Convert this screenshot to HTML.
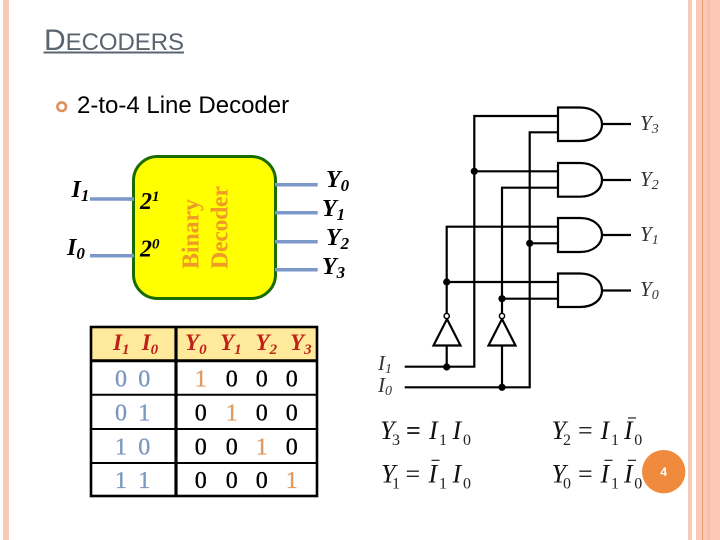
<!DOCTYPE html>
<html><head><meta charset="utf-8"><style>
html,body{margin:0;padding:0;background:#fff;width:720px;height:540px;overflow:hidden}
svg{display:block}
text{font-family:"Liberation Serif",serif}
.s{font-family:"Liberation Sans",sans-serif}
.w{stroke:#000;stroke-width:2.2;fill:none}
.g{stroke:#000;stroke-width:2.2;fill:#fff}
.bl{stroke:#7b98c8;stroke-width:3.5}
.lab{font-style:italic;font-size:21px;fill:#333}
.big{font-weight:bold;font-style:italic;font-size:24px;fill:#000}
.hd{font-weight:bold;font-style:italic;font-size:23px;fill:#c0201a}
.d{font-size:24px;text-anchor:middle;fill:#000;stroke:#000;stroke-width:.35}
.b{fill:#7b98c0;stroke:#7b98c0}.o{fill:#e09a60;stroke:#e09a60}
.eq{font-style:italic;font-size:26px;fill:#111}
.sb{font-size:16px;fill:#222}
.eqs{font-size:26px;fill:#222}
</style></head><body>
<svg width="720" height="540" viewBox="0 0 720 540" xmlns="http://www.w3.org/2000/svg">
<rect x="3" y="0" width="6" height="540" fill="#f8c8b8"/>
<rect x="688" y="0" width="4" height="540" fill="#f8c8b8"/>
<rect x="696" y="0" width="24" height="540" fill="#fdc8b8"/>
<rect x="702" y="0" width="1" height="540" fill="#e8a070"/>
<rect x="707" y="0" width="3" height="540" fill="#f8bfae"/>

<text class="s" x="44" y="50" fill="#5a6470" font-size="30" textLength="140" lengthAdjust="spacing">D<tspan font-size="24">ECODERS</tspan></text>
<rect x="43.5" y="51.5" width="140.5" height="2" fill="#5a6470"/>

<circle cx="61.7" cy="106.7" r="4.3" fill="none" stroke="#e0905a" stroke-width="2.6"/>
<text class="s" x="77" y="113" font-size="24" fill="#000">2-to-4 Line Decoder</text>

<!-- Decoder block -->
<line class="bl" x1="90" y1="199" x2="134" y2="199"/>
<line class="bl" x1="90" y1="255.7" x2="134" y2="255.7"/>
<line class="bl" x1="275" y1="184.7" x2="317.7" y2="184.7"/>
<line class="bl" x1="275" y1="212.7" x2="317.7" y2="212.7"/>
<line class="bl" x1="275" y1="241.7" x2="317.7" y2="241.7"/>
<line class="bl" x1="275" y1="269.7" x2="317.7" y2="269.7"/>
<rect x="133.5" y="156.5" width="142" height="142" rx="24" ry="24" fill="#ffff00" stroke="#1a6b00" stroke-width="3"/>
<line class="bl" x1="127" y1="199" x2="134" y2="199"/>
<line class="bl" x1="127" y1="255.7" x2="134" y2="255.7"/>
<line class="bl" x1="275" y1="184.7" x2="278" y2="184.7"/>
<line class="bl" x1="275" y1="212.7" x2="278" y2="212.7"/>
<line class="bl" x1="275" y1="241.7" x2="278" y2="241.7"/>
<line class="bl" x1="275" y1="269.7" x2="278" y2="269.7"/>
<text class="big" x="71.5" y="197" font-size="26">I<tspan font-size="17" dy="4">1</tspan></text>
<text class="big" x="67" y="255" font-size="26">I<tspan font-size="17" dy="4">0</tspan></text>
<text font-weight="bold" font-style="italic" font-size="24" x="140" y="209">2<tspan font-size="15" dy="-8">1</tspan></text>
<text font-weight="bold" font-style="italic" font-size="24" x="140" y="256.7">2<tspan font-size="15" dy="-8">0</tspan></text>
<text transform="translate(198.5 269) rotate(-90)" font-size="24" font-weight="bold" fill="#f09a28" textLength="70">Binary</text>
<text transform="translate(227.5 269) rotate(-90)" font-size="24" font-weight="bold" fill="#f09a28" textLength="83">Decoder</text>
<text class="big" x="326" y="187">Y<tspan font-size="17" dy="4">0</tspan></text>
<text class="big" x="322" y="216">Y<tspan font-size="17" dy="4">1</tspan></text>
<text class="big" x="326" y="245">Y<tspan font-size="17" dy="4">2</tspan></text>
<text class="big" x="322" y="274">Y<tspan font-size="17" dy="4">3</tspan></text>

<!-- Truth table -->
<rect x="91" y="327" width="226" height="33" fill="#ffe99a"/>
<g stroke="#000" fill="none">
<rect x="91" y="327" width="226" height="169" stroke-width="2.6"/>
<line x1="91" y1="360.7" x2="317" y2="360.7" stroke-width="3"/>
<line x1="91" y1="394.7" x2="317" y2="394.7" stroke-width="2"/>
<line x1="91" y1="429" x2="317" y2="429" stroke-width="2"/>
<line x1="91" y1="463" x2="317" y2="463" stroke-width="2"/>
<line x1="176" y1="327" x2="176" y2="496" stroke-width="3.2"/>
</g>
<text class="hd" x="113" y="350">I<tspan font-size="15" dy="4">1</tspan></text>
<text class="hd" x="141.7" y="350">I<tspan font-size="15" dy="4">0</tspan></text>
<text class="hd" x="185" y="350">Y<tspan font-size="15" dy="4">0</tspan></text>
<text class="hd" x="220" y="350">Y<tspan font-size="15" dy="4">1</tspan></text>
<text class="hd" x="255.5" y="350">Y<tspan font-size="15" dy="4">2</tspan></text>
<text class="hd" x="290" y="350">Y<tspan font-size="15" dy="4">3</tspan></text>

<g>
<text class="d b" x="121" y="386.7">0</text><text class="d b" x="144.3" y="386.7">0</text>
<text class="d o" x="200.7" y="386.7">1</text><text class="d" x="231.7" y="386.7">0</text><text class="d" x="261.7" y="386.7">0</text><text class="d" x="291.7" y="386.7">0</text>
<text class="d b" x="121" y="420.7">0</text><text class="d b" x="144.3" y="420.7">1</text>
<text class="d" x="200.7" y="420.7">0</text><text class="d o" x="231.7" y="420.7">1</text><text class="d" x="261.7" y="420.7">0</text><text class="d" x="291.7" y="420.7">0</text>
<text class="d b" x="121" y="454.3">1</text><text class="d b" x="144.3" y="454.3">0</text>
<text class="d" x="200.7" y="454.3">0</text><text class="d" x="231.7" y="454.3">0</text><text class="d o" x="261.7" y="454.3">1</text><text class="d" x="291.7" y="454.3">0</text>
<text class="d b" x="121" y="488">1</text><text class="d b" x="144.3" y="488">1</text>
<text class="d" x="200.7" y="488">0</text><text class="d" x="231.7" y="488">0</text><text class="d" x="261.7" y="488">0</text><text class="d o" x="291.7" y="488">1</text>
</g>

<!-- Circuit -->
<g class="w">
<path d="M404.7 366.7 H474.3 V116 H558"/>
<path d="M404.7 387.3 H529.7 V132.3 H558"/>
<path d="M474.3 171.3 H558"/>
<path d="M502 345 V187.7 H558"/>
<path d="M446.7 345 V226.7 H558"/>
<path d="M529.7 243.3 H558"/>
<path d="M446.7 282 H558"/>
<path d="M502 298.7 H558"/>
<path d="M446.7 345 V367"/>
<path d="M502 345 V387"/>
<path d="M602 124 H631 M602 180 H631 M602 235 H631 M602 290.5 H631"/>
</g>
<g class="g">
<path d="M558 107.5 H580 C593 107.5 602 115 602 124.5 C602 134 593 141 580 141 H558 Z"/>
<path d="M558 163 H580 C593 163 602 170.5 602 180 C602 189.5 593 196.7 580 196.7 H558 Z"/>
<path d="M558 218 H580 C593 218 602 225.5 602 235 C602 244.5 593 252 580 252 H558 Z"/>
<path d="M558 273.5 H580 C593 273.5 602 281 602 290.5 C602 300 593 307 580 307 H558 Z"/>
<path d="M433.5 345.5 H460.5 L447 319 Z"/>
<path d="M488.5 345.5 H515.5 L502 319 Z"/>
<circle cx="446.7" cy="316" r="2.6" stroke-width="1.5"/>
<circle cx="502" cy="316" r="2.6" stroke-width="1.5"/>
</g>
<g fill="#000">
<circle cx="474.3" cy="171.3" r="3.6"/><circle cx="529.7" cy="243.3" r="3.6"/>
<circle cx="446.7" cy="282" r="3.6"/><circle cx="502" cy="298.7" r="3.6"/>
<circle cx="446.7" cy="367" r="3.6"/><circle cx="502" cy="387.3" r="3.6"/>
</g>
<text class="lab" x="640" y="130">Y<tspan font-size="14" dy="3">3</tspan></text>
<text class="lab" x="640" y="186">Y<tspan font-size="14" dy="3">2</tspan></text>
<text class="lab" x="640" y="241">Y<tspan font-size="14" dy="3">1</tspan></text>
<text class="lab" x="640" y="296">Y<tspan font-size="14" dy="3">0</tspan></text>
<text class="lab" x="378" y="370">I<tspan font-size="14" dy="3">1</tspan></text>
<text class="lab" x="378" y="392">I<tspan font-size="14" dy="3">0</tspan></text>

<!-- Equations -->
<text class="eq" x="380" y="439">Y</text><text class="sb" x="392" y="445">3</text>
<text class="eqs" x="406" y="439" font-weight="bold">=</text>
<text class="eq" x="429" y="439">I</text><text class="sb" x="439" y="445">1</text>
<text class="eq" x="452.5" y="439">I</text><text class="sb" x="463" y="445">0</text>

<text class="eq" x="551.5" y="439">Y</text><text class="sb" x="563" y="445">2</text>
<text class="eqs" x="578" y="439">=</text>
<text class="eq" x="600.5" y="439">I</text><text class="sb" x="611" y="445">1</text>
<text class="eq" x="624" y="439">I</text><text class="sb" x="634.3" y="445">0</text>
<rect x="628" y="417.3" width="8" height="1.3" fill="#333"/>

<text class="eq" x="381" y="482.7">Y</text><text class="sb" x="392" y="488.7">1</text>
<text class="eqs" x="405.5" y="482.7">=</text>
<text class="eq" x="428.5" y="482.7">I</text><text class="sb" x="439" y="488.7">1</text>
<text class="eq" x="452.5" y="482.7">I</text><text class="sb" x="463" y="488.7">0</text>
<rect x="431.5" y="459.7" width="8" height="1.3" fill="#333"/>

<text class="eq" x="551.5" y="482.7">Y</text><text class="sb" x="563" y="488.7">0</text>
<text class="eqs" x="578" y="482.7">=</text>
<text class="eq" x="600.5" y="482.7">I</text><text class="sb" x="611" y="488.7">1</text>
<text class="eq" x="624" y="482.7">I</text><text class="sb" x="634.3" y="488.7">0</text>
<rect x="604.5" y="459.7" width="8" height="1.3" fill="#333"/>
<rect x="628" y="459.7" width="8" height="1.3" fill="#333"/>

<circle cx="663.7" cy="471.7" r="21.7" fill="#f08a3c"/>
<text class="s" x="663.7" y="476" font-size="12" font-weight="bold" fill="#fff" text-anchor="middle">4</text>
</svg>
</body></html>
